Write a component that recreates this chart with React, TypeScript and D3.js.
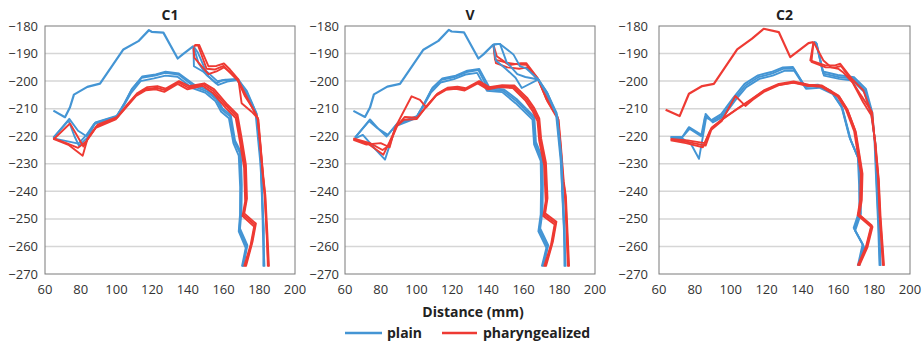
import React from "react";
import * as d3 from "d3";

type Pt = [number, number];

const X_TICKS = [60, 80, 100, 120, 140, 160, 180, 200];
const Y_TICKS = [-180, -190, -200, -210, -220, -230, -240, -250, -260, -270];
const PANEL_TITLES = ["C1", "V", "C2"];
const GROUPS = ["plain", "pharyngealized"];
const X_TITLE = "Distance (mm)";

// ---------- C1 ----------
const C1_PALATE: Pt[] = [[64.7,-210.7],[71.2,-213.1],[74,-209.5],[76.2,-204.9],[83.7,-202.1],[90.8,-200.9],[103.9,-188.5],[112.3,-185.5],[118.2,-181.5],[119.7,-182.1],[126.3,-182.4],[134.3,-191.8],[137.1,-190.3],[143.1,-187.3]];
const C1_PLAIN_BACK: Pt[][] = [
  [[143.1,-187.3],[143.4,-194.6],[148.7,-196.6],[155.8,-200.8],[159,-199.8],[167.8,-199.2],[173,-203.5],[178.3,-211.5],[180.8,-228.5],[181.3,-239.4],[182.3,-254],[182.6,-267.3]],
  [[143.1,-187.3],[146,-193.5],[150.5,-197.8],[157,-201.4],[162,-200.2],[167.5,-199.6],[172.5,-204],[178,-212.3],[180.5,-229],[181.6,-240],[182,-254.5],[182.9,-267.3]],
  [[143.1,-187.3],[145.5,-189.5],[150,-196.2],[156.5,-200],[161,-199.5],[168.3,-199.4],[173.5,-204.8],[178.6,-212],[181,-228],[181.5,-240.5],[182.5,-253.5],[182.3,-267.3]],
];
const C1_PHAR_BACK: Pt[][] = [
  [[143.1,-187.3],[146.4,-186.9],[151.5,-194.6],[156,-194.5],[160.2,-193.6],[163.6,-195.8],[168.3,-199.4],[170.1,-208],[175.7,-211.1],[179.1,-213.4],[180.4,-222.5],[181.9,-233.4],[183.2,-241.3],[184.1,-255.2],[185.1,-267.3]],
  [[143.7,-186.9],[145.6,-186.9],[150.5,-195.5],[155,-195.8],[160,-194.5],[163,-196.5],[168,-199.8],[172,-205.5],[176.5,-210],[179.1,-213.4],[180.6,-223],[182,-234],[183,-242],[184.3,-256],[184.8,-267.3]],
  [[143.1,-187.3],[143.6,-191.5],[151.5,-197.5],[156,-196.5],[160.2,-195],[164,-197],[168.5,-200],[174,-207],[178.5,-212.8],[179.5,-214],[180.8,-224],[182.3,-235],[183.4,-241.5],[184.5,-255],[185.4,-267.3]],
];
const C1_PLAIN_TONGUE: Pt[][] = [
  [[64.7,-220.6],[73.6,-213.7],[78.5,-218],[83.3,-220],[88,-215.2],[100.1,-212.8],[104.5,-208],[108.5,-203],[114.1,-198.8],[121.6,-198],[127.2,-197],[134.7,-197.6],[143.1,-201.8],[150.5,-203.7],[156.1,-206.7],[158.9,-210.3],[163.6,-212.8],[166,-221.9],[169.2,-226.1],[169.8,-238],[169.6,-247.9],[168.8,-254],[172.9,-260],[170.7,-267.3]],
  [[64.7,-220.8],[72.1,-221.8],[78.7,-222.7],[83.3,-219.5],[87.5,-215.5],[99.5,-213.2],[104,-209],[108,-204.5],[113.5,-200],[121,-199],[127.5,-198],[134.2,-198.4],[142.5,-202.5],[150,-204.3],[155.5,-207.3],[158.5,-211],[163,-213.5],[165.5,-222.5],[168.5,-227],[169.3,-238.5],[169.2,-248.5],[168.5,-254.5],[172.4,-260.5],[170.3,-267.3]],
  [[64.7,-220.5],[73.2,-214.3],[76.5,-220],[79,-223.4],[83.8,-220.5],[88.3,-215],[100.5,-212.5],[105,-207.5],[109,-202.6],[114.5,-198.3],[122,-197.6],[127.5,-196.6],[135,-197.2],[143.6,-201.3],[151,-203.2],[156.5,-206.2],[159.3,-209.8],[164,-212.3],[166.4,-221.5],[169.6,-225.6],[170.2,-237.5],[170,-247.4],[169.2,-253.5],[173.3,-259.5],[171.1,-267.3]],
];
const C1_PHAR_TONGUE: Pt[][] = [
  [[64.7,-221],[73.1,-223.1],[81.1,-227.1],[83.7,-221.2],[88.9,-216.4],[100.1,-213.4],[105.7,-209.1],[111.3,-204.9],[116.9,-202.8],[122.5,-202.4],[127.2,-203.3],[134.7,-200.4],[140.3,-202.4],[148.7,-201.2],[154.3,-203.6],[161.7,-209.1],[167.3,-212.8],[169.6,-221.2],[172,-230.9],[172.6,-243.1],[171.1,-248.5],[177.6,-252.2],[175.7,-258.8],[172,-267.3]],
  [[64.7,-221.2],[74,-215.4],[81.5,-223.7],[84.3,-220.5],[89.5,-215.8],[100.6,-213],[106,-208.5],[111.8,-204.3],[117.3,-202.2],[122.9,-201.8],[127.6,-202.7],[135,-200],[140.7,-201.8],[149.2,-200.8],[154.8,-203],[162.1,-208.5],[167.8,-212.2],[170.1,-220.6],[172.5,-230.3],[173.1,-242.6],[171.6,-248],[178.1,-251.7],[176.2,-258.3],[172.5,-267.3]],
  [[64.7,-220.8],[72,-222.5],[78.5,-224.2],[83.2,-221.8],[88.4,-217],[99.6,-213.9],[105.2,-209.7],[110.8,-205.5],[116.5,-203.3],[122,-203],[126.8,-203.9],[134.3,-201],[139.8,-203],[148.2,-201.7],[153.8,-204.2],[161.2,-209.7],[166.8,-213.4],[169.1,-221.8],[171.5,-231.5],[172.1,-243.7],[170.6,-249],[177.1,-252.8],[175.2,-259.3],[171.5,-267.3]],
];

// ---------- V ----------
const V_PALATE: Pt[] = [[64.7,-210.8],[71.2,-213],[74,-209.6],[76.2,-204.8],[83.7,-202],[90.8,-201],[103.9,-188.6],[112.3,-185.4],[118.2,-181.4],[119.7,-182],[126.6,-182.3],[134.7,-191.8],[137.5,-190.3],[143.1,-186.7]];
const V_PLAIN_BACK: Pt[][] = [
  [[143.1,-186.7],[146.8,-186.5],[154.3,-190.3],[158,-194.6],[161.7,-195.5],[168.3,-199.4],[173,-204],[178.5,-211.5],[181,-228],[181.6,-240],[182.6,-254],[183.2,-267.3]],
  [[143.1,-186.7],[146.8,-186.5],[150.5,-193.1],[156.5,-197.5],[161,-198.5],[168.3,-199.4],[173.5,-204.5],[178.2,-212],[180.8,-229],[181.8,-241],[182.8,-255],[183.5,-267.3]],
  [[143.1,-186.7],[144.5,-192.5],[150,-195.5],[155.5,-198.8],[159,-202.5],[168.3,-199.4],[173.2,-205],[178.8,-212.5],[181.3,-228.5],[182,-240.5],[183,-254.5],[182.9,-267.3]],
];
const V_PHAR_BACK: Pt[][] = [
  [[143.1,-186.7],[144,-192.2],[150.5,-193.3],[158,-194],[161.7,-194.1],[168.3,-199.4],[172.9,-206.7],[177.5,-211.5],[179.3,-213.5],[180.6,-222.5],[182.2,-236],[183.4,-241.5],[184.4,-255.5],[185.1,-267.3]],
  [[143.1,-186.7],[144.5,-193.5],[151,-195],[157.5,-195.5],[162,-195],[168.5,-200],[173.5,-207.5],[178,-212.5],[179.6,-214],[180.9,-223.5],[182.5,-236.5],[183.7,-242],[184.7,-256],[185.5,-267.3]],
  [[143.1,-186.7],[145,-191],[152,-194.2],[158.5,-193.5],[161.5,-193.5],[168,-199],[171.5,-204],[177,-210.5],[179,-213],[180.3,-222],[181.9,-235.5],[183.1,-241],[184.1,-255],[184.8,-267.3]],
];
const V_PLAIN_TONGUE: Pt[][] = [
  [[65.6,-220.6],[74,-213.9],[79,-217.5],[83.3,-220.1],[88.9,-215.8],[100.1,-213],[104.5,-208],[108.5,-203],[114,-199.5],[121.5,-198.5],[128.1,-196.7],[134.7,-196],[140.3,-203],[148.5,-203.5],[156.1,-207.3],[165.5,-213.4],[166.4,-222.5],[170.1,-228.5],[170.3,-238],[170.1,-247.9],[168.8,-254],[173.3,-260],[170.7,-267.3]],
  [[65.6,-220.8],[70,-219.5],[76,-224],[82.4,-228.5],[88.5,-216.3],[99.5,-213.5],[104,-209],[108,-204.3],[113.5,-200.5],[121,-199.3],[127.5,-197.6],[134,-197],[139.5,-203.5],[148,-204],[155.5,-208],[165,-214],[165.9,-223],[169.6,-229],[169.8,-238.5],[169.6,-248.4],[168.3,-254.5],[172.8,-260.5],[170.2,-267.3]],
  [[65.6,-220.4],[73.5,-214.5],[78,-217],[84,-219.5],[89.3,-215.3],[100.6,-212.6],[105,-207.4],[109,-202.4],[114.5,-199],[122,-198],[128.5,-196.2],[135.2,-195.6],[141,-202.5],[149,-203],[156.6,-206.8],[166,-212.9],[166.9,-222],[170.6,-228],[170.8,-237.5],[170.6,-247.4],[169.3,-253.5],[173.8,-259.5],[171.2,-267.3]],
];
const V_PHAR_TONGUE: Pt[][] = [
  [[64.7,-221],[73.1,-222.8],[81.5,-226.7],[85,-222],[88.9,-216.4],[93,-214],[100.1,-213.8],[105.7,-209.1],[111.3,-204.9],[116.9,-202.8],[122.5,-202.4],[127.2,-203],[134.7,-200.4],[140.3,-202.6],[147,-201.8],[154.3,-202],[161.7,-206.7],[165.5,-210.3],[168.3,-214],[169.3,-221.2],[172,-230],[172.9,-243],[171.6,-248.5],[177.9,-251.5],[175.9,-258.8],[172,-267.3]],
  [[64.7,-221.3],[72,-223],[80,-222.5],[85,-224],[88,-217],[97.3,-205.5],[102,-206.8],[105.5,-209.5],[111,-205.3],[116.5,-203.2],[122,-202.8],[127,-203.4],[134.3,-200.8],[140,-203],[146.5,-202.2],[154,-202.5],[161.2,-207.2],[165,-210.8],[167.8,-214.5],[168.8,-221.8],[171.5,-230.5],[172.4,-243.5],[171.1,-249],[177.4,-252],[175.4,-259.3],[171.5,-267.3]],
  [[64.7,-220.8],[74,-222.5],[81,-225],[84.5,-223.5],[89.4,-216],[93.5,-213],[100.5,-213.3],[106.2,-208.7],[111.8,-204.5],[117.4,-202.4],[123,-202],[127.6,-202.6],[135.1,-200],[140.7,-202.2],[148,-201.5],[154.8,-201.6],[162.2,-206.2],[166,-209.8],[168.8,-213.5],[169.8,-220.7],[172.5,-229.5],[173.4,-242.5],[172.1,-248],[178.4,-251],[176.4,-258.3],[172.5,-267.3]],
];

// ---------- C2 ----------
const C2_PALATE: Pt[] = [[63.7,-210.4],[71.5,-212.7],[76.7,-204.6],[84.1,-201.8],[90.6,-201],[103.6,-188.5],[111.9,-184.6],[118.4,-181],[126.8,-182.2],[133.2,-191.3],[143.4,-186.2],[146.2,-185.8]];
const C2_PLAIN_BACK: Pt[][] = [
  [[146.2,-185.8],[147.5,-186],[151.7,-197.3],[160.1,-198.5],[168.5,-199.1],[175,-203.4],[178.7,-211.9],[180.5,-222.2],[181.5,-237.9],[182.5,-252],[183.3,-267]],
  [[146.2,-185.8],[148,-186.5],[152,-198],[160.5,-199.2],[168,-199.8],[174.5,-204],[178.5,-212.5],[180.8,-223],[181.8,-238.5],[182.8,-252.5],[183.6,-267]],
  [[146.2,-185.8],[147.8,-186.3],[151.3,-196.5],[159.7,-197.8],[168.8,-198.6],[175.4,-202.8],[179,-211.5],[180.2,-221.5],[181.2,-237.2],[182.2,-251.5],[183,-267]],
];
const C2_PHAR_BACK: Pt[][] = [
  [[146.2,-185.8],[144.4,-192.5],[152.7,-194.3],[158.3,-194.3],[161.1,-193.7],[167.5,-199.1],[174,-203.4],[178.7,-211.9],[180.5,-222],[182.4,-235.5],[183.3,-248.8],[185.2,-267]],
  [[146.2,-185.8],[151.7,-192.5],[156,-195],[160,-195.5],[163,-197],[168,-200.5],[173.8,-207.6],[178.5,-212.5],[180.8,-223],[182.6,-236],[183.6,-249.5],[185.5,-267]],
  [[146.2,-185.8],[145,-193],[153,-195],[158.5,-195],[161.5,-194.5],[167.2,-199.5],[172.5,-205],[178.9,-211.3],[180.3,-221.5],[182.2,-235],[183,-248],[184.9,-267]],
];
const C2_PLAIN_TONGUE: Pt[][] = [
  [[66.5,-220.3],[73,-220.3],[76.7,-216.7],[84.1,-219.7],[86,-211.9],[89.5,-214.5],[95.2,-212.5],[102,-206.5],[108.2,-201.6],[115.6,-198.5],[123,-197.3],[129.5,-195.5],[135.1,-195.5],[141.6,-202.2],[149,-201.8],[156.4,-204],[162,-209.4],[166.6,-220.9],[171.3,-228.2],[172,-238],[172.2,-247.6],[169,-253.7],[174,-259.7],[171.3,-267]],
  [[66.5,-220.6],[73.5,-221],[78,-223],[82.3,-228.2],[86.5,-212.5],[90,-215],[95.7,-213],[102.5,-207],[108.7,-202.2],[116,-199.2],[123.4,-198],[129.9,-196.3],[135.5,-196.3],[142,-202.8],[149.4,-202.4],[156.8,-204.6],[162.4,-210],[167,-221.5],[171.7,-228.8],[172.4,-238.5],[172.6,-248.2],[169.4,-254.3],[174.4,-260.3],[171.7,-267]],
  [[66.5,-220.3],[73,-220.3],[77,-217.3],[83.5,-220],[85.6,-213],[89,-214.2],[94.7,-212],[101.5,-206],[107.7,-201],[115.2,-197.9],[122.6,-196.7],[129.1,-195],[134.7,-194.9],[141.2,-201.7],[148.6,-201.3],[156,-203.5],[161.6,-208.8],[166.2,-220.3],[170.9,-227.6],[171.6,-237.5],[171.8,-247],[168.6,-253.2],[173.6,-259.1],[170.9,-267]],
];
const C2_PHAR_TONGUE: Pt[][] = [
  [[66.5,-221.2],[74.8,-221.9],[86,-223.4],[89.7,-216.7],[96,-213.5],[103.6,-210],[111.9,-206.4],[118.4,-203.4],[126.8,-201],[135.1,-200.1],[143.4,-201.3],[150.9,-201.6],[160.1,-205.2],[164.8,-210],[169.4,-217.9],[173.1,-233.1],[172.7,-242.7],[171.3,-248.2],[178.7,-252.4],[175.9,-259.7],[171.3,-267]],
  [[66.5,-221.5],[75,-222.5],[84.5,-224],[88.5,-218],[95,-214.5],[102.6,-205.4],[108.2,-209],[112.3,-206.8],[118.8,-203.8],[127.2,-201.4],[135.5,-200.5],[143.8,-201.7],[151.3,-202],[160.5,-205.6],[165.2,-210.5],[169.8,-218.5],[173.5,-233.6],[173.1,-243.2],[171.7,-248.7],[179.1,-252.9],[176.3,-260.2],[171.7,-267]],
  [[66.5,-221],[76,-221.5],[85.5,-222.5],[89.2,-217],[95.5,-213.8],[103.1,-210.4],[111.4,-206.8],[117.9,-203.8],[126.3,-201.4],[134.6,-200.5],[142.9,-201.7],[150.4,-202],[159.6,-205.6],[164.3,-210.4],[168.9,-218.3],[172.6,-233.5],[172.2,-243.2],[170.8,-248.7],[178.2,-252.9],[175.4,-260.2],[170.8,-267]],
];

const BLUE = "#4495d4";
const RED = "#ee3a33";
const FONT = "'Open Sans', 'Noto Sans', sans-serif";

type Panel = {
  title: string;
  left: number;
  right: number;
  labelRight: number;
  palate: Pt[];
  palateColor: string;
  plainBack: Pt[][];
  pharBack: Pt[][];
  plainTongue: Pt[][];
  pharTongue: Pt[][];
  redBackFirst: boolean;
};

const PANELS: Panel[] = [
  { title: PANEL_TITLES[0], left: 45, right: 295, labelRight: 38, palate: C1_PALATE, palateColor: BLUE, plainBack: C1_PLAIN_BACK, pharBack: C1_PHAR_BACK, plainTongue: C1_PLAIN_TONGUE, pharTongue: C1_PHAR_TONGUE, redBackFirst: false },
  { title: PANEL_TITLES[1], left: 345, right: 595, labelRight: 339, palate: V_PALATE, palateColor: BLUE, plainBack: V_PLAIN_BACK, pharBack: V_PHAR_BACK, plainTongue: V_PLAIN_TONGUE, pharTongue: V_PHAR_TONGUE, redBackFirst: true },
  { title: PANEL_TITLES[2], left: 659, right: 910, labelRight: 648, palate: C2_PALATE, palateColor: RED, plainBack: C2_PLAIN_BACK, pharBack: C2_PHAR_BACK, plainTongue: C2_PLAIN_TONGUE, pharTongue: C2_PHAR_TONGUE, redBackFirst: false },
];

const TOP = 26;
const BOTTOM = 274;

function PanelView({ p }: { p: Panel }) {
  const x = d3.scaleLinear().domain([60, 200]).range([p.left, p.right]);
  const y = d3.scaleLinear().domain([-180, -270]).range([TOP, BOTTOM]);
  const line = d3.line<Pt>().x((d) => x(d[0])).y((d) => y(d[1]));
  const backs: { d: Pt[]; c: string }[] = [];
  const blueBacks = p.plainBack.map((d) => ({ d, c: BLUE }));
  const redBacks = p.pharBack.map((d) => ({ d, c: RED }));
  if (p.redBackFirst) backs.push(...redBacks, ...blueBacks);
  else backs.push(...blueBacks, ...redBacks);
  const tongues = [
    ...p.plainTongue.map((d) => ({ d, c: BLUE })),
    ...p.pharTongue.map((d) => ({ d, c: RED })),
  ];
  const cx = (p.left + p.right) / 2;
  return (
    <g>
      {Y_TICKS.slice(1, -1).map((t) => (
        <line key={t} x1={p.left} x2={p.right} y1={y(t)} y2={y(t)} stroke="#d6d6d6" strokeWidth={1.5} />
      ))}
      {backs.map((b, i) => (
        <path key={"b" + i} d={line(b.d) || ""} fill="none" stroke={b.c} strokeWidth={1.9} strokeLinejoin="round" />
      ))}
      {tongues.map((b, i) => (
        <path key={"t" + i} d={line(b.d) || ""} fill="none" stroke={b.c} strokeWidth={1.9} strokeLinejoin="round" />
      ))}
      <path d={line(p.palate) || ""} fill="none" stroke={p.palateColor} strokeWidth={2.2} strokeLinejoin="round" />
      <rect x={p.left} y={TOP} width={p.right - p.left} height={BOTTOM - TOP} fill="none" stroke="#7a7a7a" strokeWidth={1} />
      {Y_TICKS.map((t) => (
        <text key={t} x={p.labelRight} y={y(t) + 4.5} textAnchor="end" fontSize={13} fill="#333" fontFamily={FONT}>
          {"\u2212" + Math.abs(t)}
        </text>
      ))}
      {X_TICKS.map((t) => (
        <text key={t} x={x(t)} y={293.5} textAnchor="middle" fontSize={13} fill="#333" fontFamily={FONT}>
          {t}
        </text>
      ))}
      <text x={cx} y={20} textAnchor="middle" fontSize={14} fontWeight="bold" fill="#222" fontFamily={FONT}>
        {p.title}
      </text>
    </g>
  );
}

export default function App() {
  return (
    <svg width={922} height={343} style={{ position: "absolute", left: 0, top: 0, background: "#fff" }}>
      <rect width={922} height={343} fill="#fff" />
      {PANELS.map((p) => (
        <PanelView key={p.title} p={p} />
      ))}
      <text x={473} y={317} textAnchor="middle" fontSize={14} fontWeight="bold" fill="#222" fontFamily={FONT}>
        {X_TITLE}
      </text>
      <line x1={345} x2={382} y1={333} y2={333} stroke={BLUE} strokeWidth={2.5} />
      <text x={387} y={338} fontSize={14} fontWeight="bold" fill="#222" fontFamily={FONT}>
        {GROUPS[0]}
      </text>
      <line x1={442} x2={477} y1={333} y2={333} stroke={RED} strokeWidth={2.5} />
      <text x={483} y={338} fontSize={14} fontWeight="bold" fill="#222" fontFamily={FONT}>
        {GROUPS[1]}
      </text>
    </svg>
  );
}
